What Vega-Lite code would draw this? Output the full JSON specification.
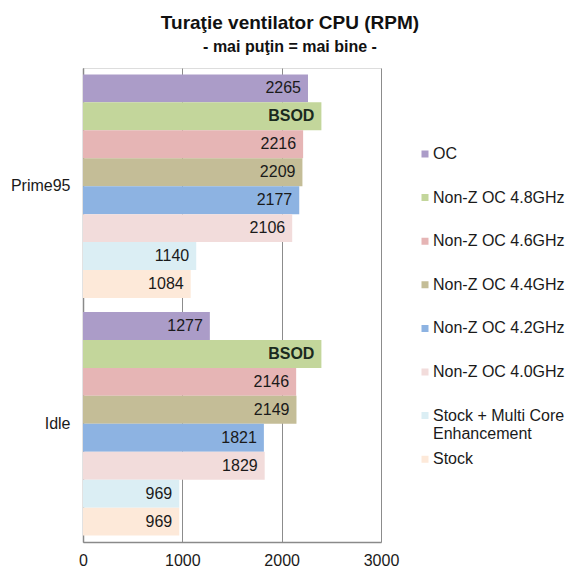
{
  "$schema": "https://vega.github.io/schema/vega-lite/v6.json",
  "width": 298,
  "height": 474,
  "autosize": {"type": "none"},
  "padding": {"left": 83, "top": 68, "right": 199, "bottom": 38},
  "background": "white",
  "title": {
    "text": "Turaţie ventilator CPU (RPM)",
    "subtitle": "- mai puţin = mai bine -",
    "font": "Liberation Sans",
    "fontSize": 19,
    "fontWeight": "bold",
    "color": "#111111",
    "subtitleFont": "Liberation Sans",
    "subtitleFontSize": 16,
    "subtitleFontWeight": "bold",
    "subtitleColor": "#111111",
    "subtitlePadding": 6,
    "anchor": "middle",
    "dx": 58,
    "offset": 13
  },
  "data": {
    "values": [
      {"category": "Prime95", "series": "OC", "value": 2265, "label": "2265"},
      {"category": "Prime95", "series": "Non-Z OC 4.8GHz", "value": 2400, "label": "BSOD"},
      {"category": "Prime95", "series": "Non-Z OC 4.6GHz", "value": 2216, "label": "2216"},
      {"category": "Prime95", "series": "Non-Z OC 4.4GHz", "value": 2209, "label": "2209"},
      {"category": "Prime95", "series": "Non-Z OC 4.2GHz", "value": 2177, "label": "2177"},
      {"category": "Prime95", "series": "Non-Z OC 4.0GHz", "value": 2106, "label": "2106"},
      {"category": "Prime95", "series": "Stock + Multi Core Enhancement", "value": 1140, "label": "1140"},
      {"category": "Prime95", "series": "Stock", "value": 1084, "label": "1084"},
      {"category": "Idle", "series": "OC", "value": 1277, "label": "1277"},
      {"category": "Idle", "series": "Non-Z OC 4.8GHz", "value": 2400, "label": "BSOD"},
      {"category": "Idle", "series": "Non-Z OC 4.6GHz", "value": 2146, "label": "2146"},
      {"category": "Idle", "series": "Non-Z OC 4.4GHz", "value": 2149, "label": "2149"},
      {"category": "Idle", "series": "Non-Z OC 4.2GHz", "value": 1821, "label": "1821"},
      {"category": "Idle", "series": "Non-Z OC 4.0GHz", "value": 1829, "label": "1829"},
      {"category": "Idle", "series": "Stock + Multi Core Enhancement", "value": 969, "label": "969"},
      {"category": "Idle", "series": "Stock", "value": 969, "label": "969"}
    ]
  },
  "encoding": {
    "y": {
      "field": "category",
      "type": "nominal",
      "sort": ["Prime95", "Idle"],
      "scale": {"paddingInner": 0.059, "paddingOuter": 0.027},
      "axis": {
        "title": null,
        "ticks": false,
        "labelPadding": 13,
        "labelFont": "Liberation Sans",
        "labelFontSize": 16,
        "labelColor": "#1a1a1a",
        "domainColor": "#8a8a8a",
        "domainWidth": 1.5
      }
    },
    "yOffset": {
      "field": "series",
      "type": "nominal",
      "sort": ["OC", "Non-Z OC 4.8GHz", "Non-Z OC 4.6GHz", "Non-Z OC 4.4GHz", "Non-Z OC 4.2GHz", "Non-Z OC 4.0GHz", "Stock + Multi Core Enhancement", "Stock"],
      "scale": {"paddingInner": 0, "paddingOuter": 0}
    },
    "x": {
      "field": "value",
      "type": "quantitative",
      "scale": {"domain": [0, 3000], "nice": false},
      "axis": {
        "title": null,
        "values": [0, 1000, 2000, 3000],
        "format": "d",
        "ticks": false,
        "labelPadding": 10,
        "labelFont": "Liberation Sans",
        "labelFontSize": 16,
        "labelColor": "#1a1a1a",
        "domainColor": "#8a8a8a",
        "domainWidth": 1.5,
        "grid": true,
        "gridColor": "#8c8c8c",
        "gridWidth": 1,
        "labelFlush": false
      }
    }
  },
  "layer": [
    {
      "mark": {"type": "bar", "cornerRadius": 0},
      "encoding": {
        "color": {
          "field": "series",
          "type": "nominal",
          "sort": ["OC", "Non-Z OC 4.8GHz", "Non-Z OC 4.6GHz", "Non-Z OC 4.4GHz", "Non-Z OC 4.2GHz", "Non-Z OC 4.0GHz", "Stock + Multi Core Enhancement", "Stock"],
          "scale": {
            "domain": ["OC", "Non-Z OC 4.8GHz", "Non-Z OC 4.6GHz", "Non-Z OC 4.4GHz", "Non-Z OC 4.2GHz", "Non-Z OC 4.0GHz", "Stock + Multi Core Enhancement", "Stock"],
            "range": ["#ab9cc8", "#c3d69b", "#e6b5b5", "#c4bd97", "#8db3e2", "#f2dcdb", "#dbeef4", "#fde9d9"]
          },
          "legend": {
            "title": null,
            "orient": "none",
            "legendX": 334,
            "legendY": 79,
            "padding": 0,
            "symbolType": "square",
            "symbolSize": 49,
            "symbolStrokeWidth": 0,
            "labelFont": "Liberation Sans",
            "labelFontSize": 16,
            "labelColor": "#1a1a1a",
            "labelOffset": 0,
            "labelLimit": 200,
            "clipHeight": 14,
            "rowPadding": 9.6,
            "labelExpr": "datum.label == 'Stock + Multi Core Enhancement' ? ['Stock + Multi Core', 'Enhancement'] : [datum.label, '']"
          }
        }
      }
    },
    {
      "transform": [{"filter": "datum.label != 'BSOD'"}],
      "mark": {"type": "text", "align": "right", "baseline": "middle", "dx": -7, "font": "Liberation Sans", "fontSize": 16, "color": "#1a1a1a"},
      "encoding": {"text": {"field": "label"}}
    },
    {
      "transform": [{"filter": "datum.label == 'BSOD'"}],
      "mark": {"type": "text", "align": "right", "baseline": "middle", "dx": -7, "font": "Liberation Sans", "fontSize": 16, "fontWeight": "bold", "color": "#1a2a1e"},
      "encoding": {"text": {"field": "label"}}
    }
  ]
}
